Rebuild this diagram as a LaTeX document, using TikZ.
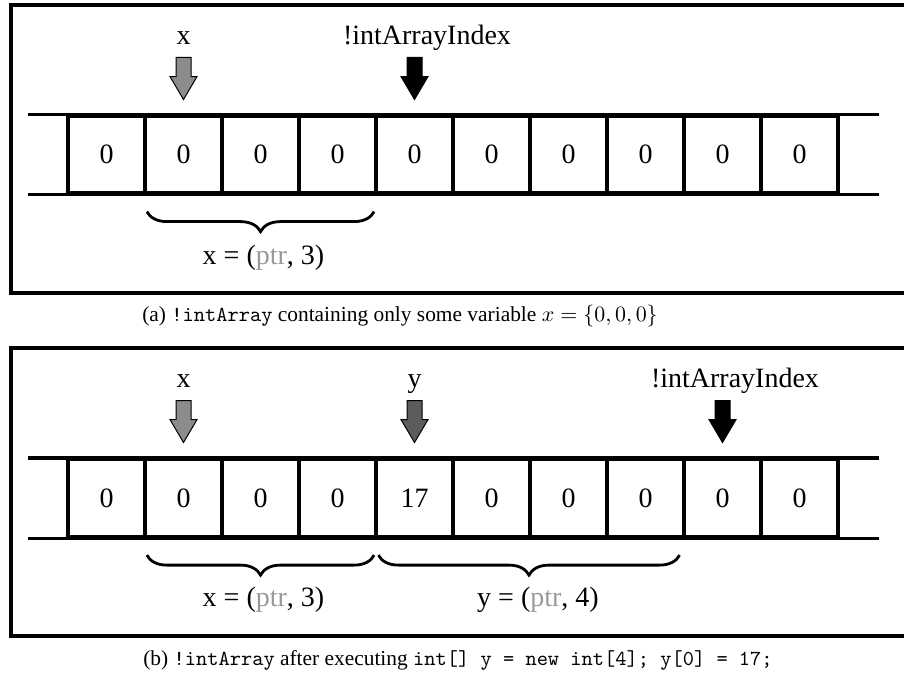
\documentclass[tikz,border=0pt]{standalone}
\usepackage{fontspec}
\setmainfont{Liberation Serif}
\usetikzlibrary{decorations.pathreplacing,shapes.arrows}
\definecolor{xgray}{gray}{0.55}
\definecolor{ygray}{gray}{0.36}
\definecolor{ptrgray}{gray}{0.6}
\tikzset{
  cell/.style={draw, line width=1.6pt, minimum width=38.5pt, minimum height=38.5pt, inner sep=0pt, font=\fontsize{14}{16}\selectfont},
  lbl/.style={font=\fontsize{14}{16}\selectfont, anchor=base, inner sep=0pt},
  ptr/.style={single arrow, draw=black, line width=0.5pt, shape border rotate=270, minimum height=21pt, minimum width=13pt, inner sep=3.5pt, single arrow head extend=3pt, single arrow tip angle=61, anchor=tail},
  frame/.style={line width=1.6pt},
  span/.style={decorate, decoration={brace, mirror, amplitude=10pt}, line width=1.4pt},
  caption/.style={font=\fontsize{10.7}{13}\selectfont, anchor=base, inner sep=0pt}
}
\begin{document}
\begin{tikzpicture}[x=0.5pt, y=-0.5pt]
\useasboundingbox (0,0) rectangle (904,684);
%% Frames
\draw[frame] (11,5) rectangle (920,293);
\draw[frame] (11,348) rectangle (920,636);
%% Array (a)
\node[cell](a0) at (106.5,154.5) {0};
\node[cell](a1) at (183.5,154.5) {0};
\node[cell](a2) at (260.5,154.5) {0};
\node[cell](a3) at (337.5,154.5) {0};
\node[cell](a4) at (414.5,154.5) {0};
\node[cell](a5) at (491.5,154.5) {0};
\node[cell](a6) at (568.5,154.5) {0};
\node[cell](a7) at (645.5,154.5) {0};
\node[cell](a8) at (722.5,154.5) {0};
\node[cell](a9) at (799.5,154.5) {0};
\draw[line width=1.6pt] ([xshift=-19pt]a0.north west) -- ([xshift=19.5pt]a9.north east);
\draw[line width=1.6pt] ([xshift=-19pt]a0.south west) -- ([xshift=19.5pt]a9.south east);
%% Pointers (a)
\node[ptr, fill=xgray](xa) at (183.5,57) {};
\node[ptr, fill=black](ia) at (414.5,57) {};
\node[lbl](xalbl) at (183.5,45) {x};
\node[lbl](ialbl) at (427,45) {!intArrayIndex};
%% Span (a)
\draw[span] ([xshift=1.75pt,yshift=-8.5pt]a1.south west) -- ([xshift=-1.75pt,yshift=-8.5pt]a3.south east);
\node[lbl](xaspan) at (263.5,264) {x = (\textcolor{ptrgray}{ptr}, 3)};
\node[caption](capa) at (400,321) {(a) \texttt{!intArray} containing only some variable $x=\{0,0,0\}$};
%% Array (b)
\node[cell](b0) at (106.5,498) {0};
\node[cell](b1) at (183.5,498) {0};
\node[cell](b2) at (260.5,498) {0};
\node[cell](b3) at (337.5,498) {0};
\node[cell](b4) at (414.5,498) {17};
\node[cell](b5) at (491.5,498) {0};
\node[cell](b6) at (568.5,498) {0};
\node[cell](b7) at (645.5,498) {0};
\node[cell](b8) at (722.5,498) {0};
\node[cell](b9) at (799.5,498) {0};
\draw[line width=1.6pt] ([xshift=-19pt]b0.north west) -- ([xshift=19.5pt]b9.north east);
\draw[line width=1.6pt] ([xshift=-19pt]b0.south west) -- ([xshift=19.5pt]b9.south east);
%% Pointers (b)
\node[ptr, fill=xgray](xb) at (183.5,400) {};
\node[ptr, fill=ygray](yb) at (414.5,400) {};
\node[ptr, fill=black](ib) at (722.5,400) {};
\node[lbl](xblbl) at (183.5,387) {x};
\node[lbl](yblbl) at (414.5,387) {y};
\node[lbl](iblbl) at (735,387) {!intArrayIndex};
%% Spans (b)
\draw[span] ([xshift=1.75pt,yshift=-8.5pt]b1.south west) -- ([xshift=-1.75pt,yshift=-8.5pt]b3.south east);
\draw[span] ([xshift=2pt,yshift=-8.5pt]b4.south west) -- ([xshift=-3pt,yshift=-8.5pt]b7.south east);
\node[lbl](xbspan) at (263.5,606) {x = (\textcolor{ptrgray}{ptr}, 3)};
\node[lbl](ybspan) at (538,606) {y = (\textcolor{ptrgray}{ptr}, 4)};
\node[caption](capb) at (458,665) {(b) \texttt{!intArray} after executing \texttt{int[] y = new int[4]; y[0] = 17;}};
\end{tikzpicture}
\end{document}
